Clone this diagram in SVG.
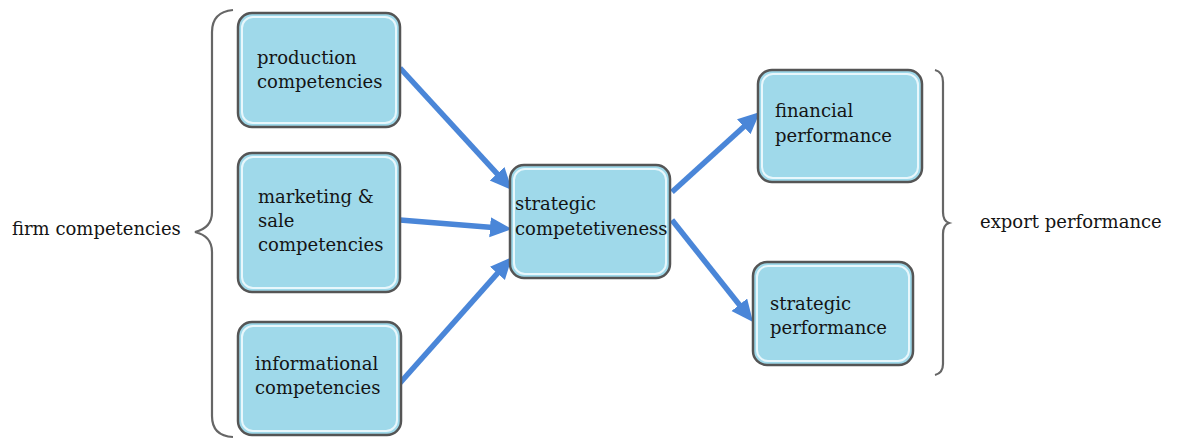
<svg xmlns="http://www.w3.org/2000/svg" width="1179" height="444" viewBox="0 0 1179 444">
<style>
.box{fill:#9fd9ea;stroke:#555;stroke-width:2.5}
.hl{fill:none;stroke:#e8f7fc;stroke-width:2}
.t{font-family:"DejaVu Serif","Liberation Serif",serif;font-size:18px;fill:#141414}
.conn{stroke:#4a86d8;stroke-width:5.5;fill:none}
.brace{fill:none;stroke:#666;stroke-width:2.2}
</style>
<defs>
<marker id="ah" markerUnits="userSpaceOnUse" markerWidth="24" markerHeight="22" refX="9" refY="10" orient="auto">
<path d="M0,0 L22,10 L0,20 z" fill="#4a86d8"/>
</marker>
</defs>
<rect width="1179" height="444" fill="#fff"/>
<g id="left-brace">
<path class="brace" d="M233,10 Q212,12 212,32 L212,212 Q212,228 195,232 Q212,236 212,252 L212,416 Q212,436 233,437"/>
<text class="t" x="12" y="235">firm competencies</text>
</g>
<g id="right-brace">
<path class="brace" d="M935,70 Q943,72 943,82 L943,212 Q943,221 949,223 Q943,225 943,234 L943,364 Q943,373 935,375"/>
<text class="t" x="980" y="228">export performance</text>
</g>
<g id="connectors">
<line class="conn" x1="400" y1="68" x2="503.2" y2="180.4" marker-end="url(#ah)"/>
<line class="conn" x1="400" y1="220" x2="499" y2="228" marker-end="url(#ah)"/>
<line class="conn" x1="400" y1="383" x2="503.4" y2="266.7" marker-end="url(#ah)"/>
<line class="conn" x1="672" y1="192" x2="750.4" y2="120.7" marker-end="url(#ah)"/>
<line class="conn" x1="672" y1="220" x2="744.9" y2="311.8" marker-end="url(#ah)"/>
</g>
<g id="production">
<rect class="box" x="238" y="13" width="162" height="114" rx="14"/>
<rect class="hl" x="242" y="17" width="154" height="106" rx="11"/>
<text class="t" x="257" y="64">production</text>
<text class="t" x="257" y="88">competencies</text>
</g>
<g id="marketing">
<rect class="box" x="238" y="153" width="162" height="139" rx="14"/>
<rect class="hl" x="242" y="157" width="154" height="131" rx="11"/>
<text class="t" x="258" y="203">marketing &amp;</text>
<text class="t" x="258" y="227">sale</text>
<text class="t" x="258" y="251">competencies</text>
</g>
<g id="informational">
<rect class="box" x="238" y="322" width="163" height="113" rx="14"/>
<rect class="hl" x="242" y="326" width="155" height="105" rx="11"/>
<text class="t" x="255" y="370">informational</text>
<text class="t" x="255" y="394">competencies</text>
</g>
<g id="strategic-competitiveness">
<rect class="box" x="510" y="165" width="160" height="113" rx="14"/>
<rect class="hl" x="514" y="169" width="152" height="105" rx="11"/>
<text class="t" x="515" y="210">strategic</text>
<text class="t" x="515" y="235">competetiveness</text>
</g>
<g id="financial">
<rect class="box" x="758" y="70" width="164" height="112" rx="14"/>
<rect class="hl" x="762" y="74" width="156" height="104" rx="11"/>
<text class="t" x="775" y="117">financial</text>
<text class="t" x="775" y="142">performance</text>
</g>
<g id="strategic-performance">
<rect class="box" x="753" y="262" width="160" height="103" rx="14"/>
<rect class="hl" x="757" y="266" width="152" height="95" rx="11"/>
<text class="t" x="770" y="310">strategic</text>
<text class="t" x="770" y="334">performance</text>
</g>
</svg>
